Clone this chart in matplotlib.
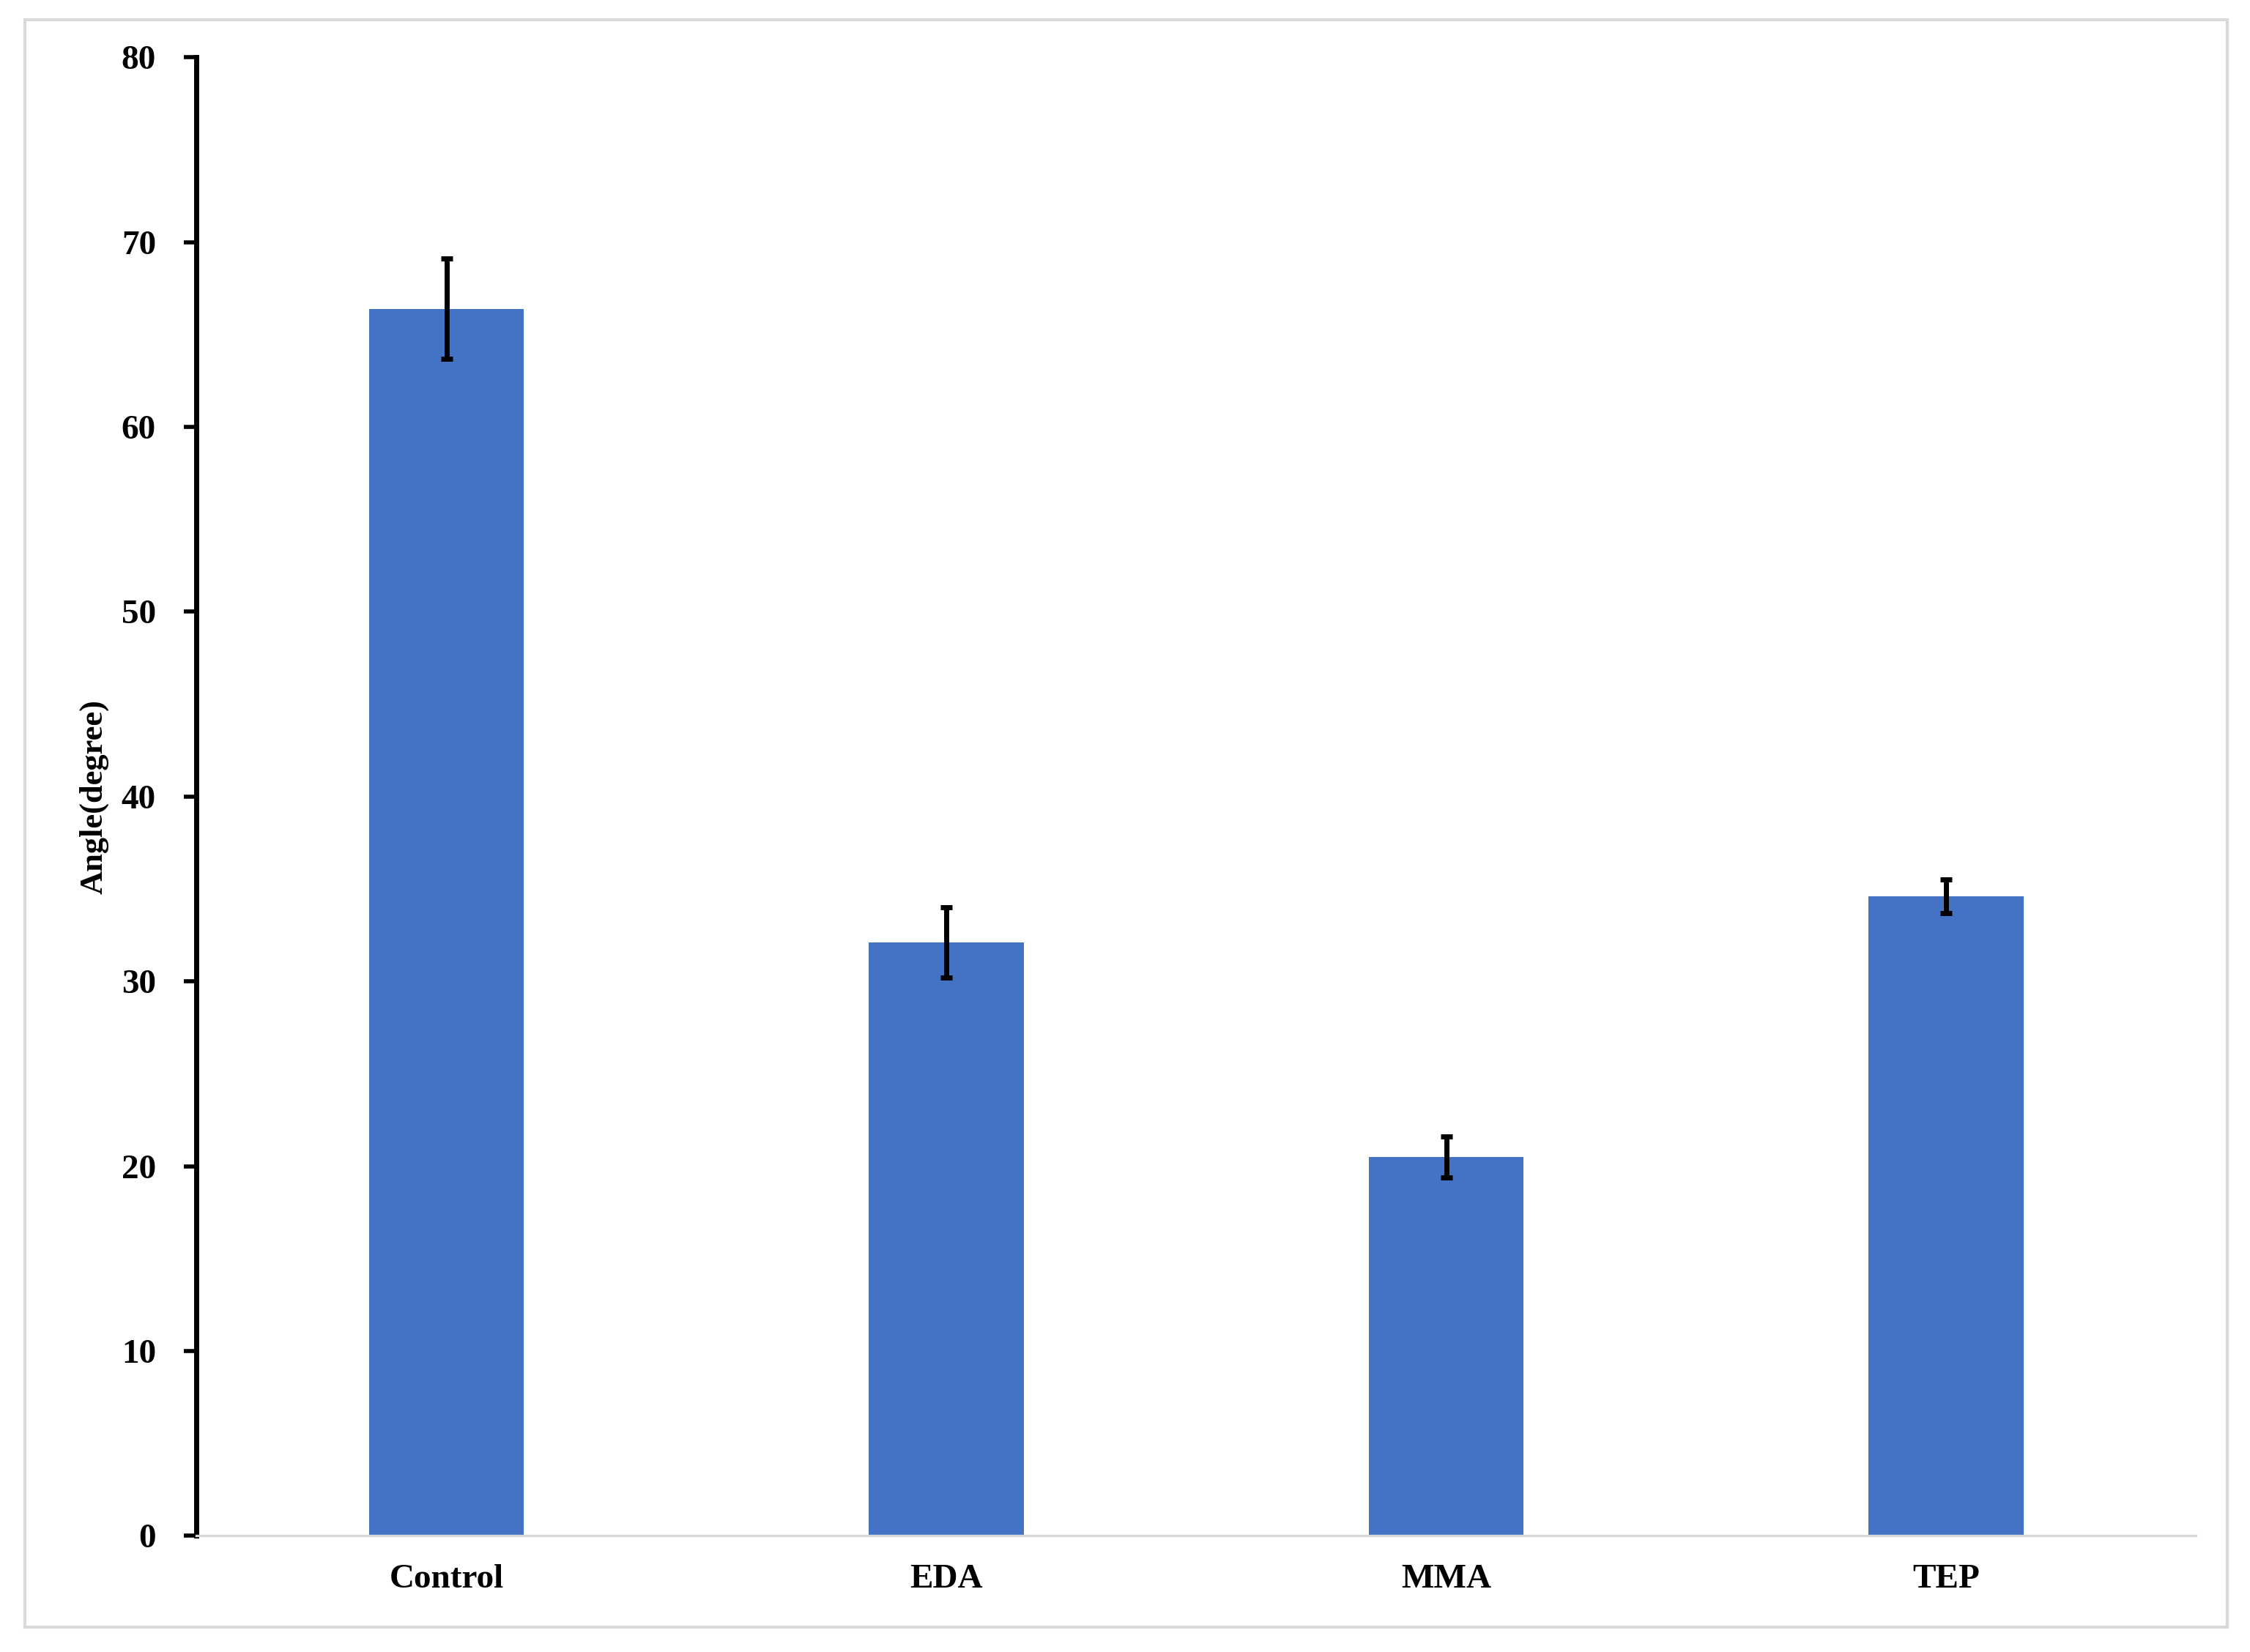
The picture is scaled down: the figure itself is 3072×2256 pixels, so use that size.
import matplotlib.pyplot as plt
from matplotlib.patches import Rectangle

categories = ["Control", "EDA", "MMA", "TEP"]
angles = [66.4, 32.1, 20.5, 34.6]
errors = [2.7, 1.9, 1.1, 0.9]

plt.rcParams["font.family"] = ["Liberation Serif", "DejaVu Serif"]
plt.rcParams["font.weight"] = "bold"

fig = plt.figure(figsize=(15.36, 11.28), dpi=200)
fig.patches.append(Rectangle((0.011, 0.015), 0.979, 0.973, transform=fig.transFigure,
                             fill=False, edgecolor="#d9d9d9", linewidth=1.5))
ax = fig.add_axes([0.0874, 0.0703, 0.8886, 0.895])

x = range(len(categories))
ax.bar(x, angles, width=0.31, color="#4472c4", zorder=2)
ax.errorbar(x, angles, yerr=errors, fmt="none", ecolor="black",
            elinewidth=2.5, capsize=3, capthick=2.5, zorder=3)

ax.set_xlim(-0.5, 3.5)
ax.set_ylim(0, 80)
ax.set_yticks(range(0, 81, 10))
ax.set_xticks(list(x))
ax.set_xticklabels(categories, fontsize=17, fontweight="bold")
ax.tick_params(axis="y", labelsize=17, width=2, length=6, direction="out", pad=14)
ax.tick_params(axis="x", length=0, pad=14)
for lab in ax.get_yticklabels():
    lab.set_fontweight("bold")
ax.set_ylabel("Angle(degree)", fontsize=16, fontweight="bold", labelpad=6)

for s in ("top", "right"):
    ax.spines[s].set_visible(False)
ax.spines["left"].set_linewidth(2.5)
ax.spines["bottom"].set_color("#d9d9d9")
ax.spines["bottom"].set_linewidth(1.2)

fig.savefig("out.png", dpi=200)
